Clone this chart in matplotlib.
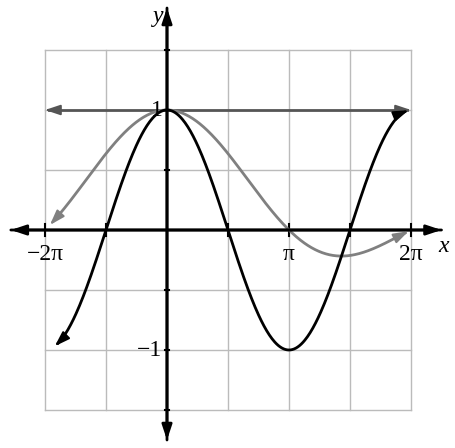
import numpy as np
import matplotlib
matplotlib.use("Agg")
import matplotlib.pyplot as plt

PI = np.pi
xtick_pos = [-PI, PI, 2 * PI]
xtick_labels = ["−2π", "π", "2π"]
ytick_pos = [1, -1]
ytick_labels = ["1", "−1"]
black_range = (-0.92 * PI, 1.98 * PI)
gray_range = (-0.96 * PI, 1.98 * PI)
hline_y = 1.0

fig = plt.figure(figsize=(4.56, 4.48), dpi=100)
ax = fig.add_axes([0, 0, 1, 1])
ax.set_xlim(-167 / 122 * PI, 289 / 122 * PI)
ax.set_ylim(-218 / 120, 230 / 120)
ax.axis("off")

for gx in np.arange(-PI, 2 * PI + 1e-9, PI / 2):
    ax.plot([gx, gx], [-1.5, 1.5], color="#bbbbbb", lw=1, zorder=0)
for gy in np.arange(-1.5, 1.5 + 1e-9, 0.5):
    ax.plot([-PI, 2 * PI], [gy, gy], color="#bbbbbb", lw=1, zorder=0)

ap = dict(arrowstyle="-|>,head_length=0.9,head_width=0.3", lw=2, color="black", shrinkA=0, shrinkB=0)
ax.annotate("", xy=(-1.28 * PI, 0), xytext=(2.25 * PI, 0), arrowprops=ap)
ax.annotate("", xy=(2.25 * PI, 0), xytext=(-1.28 * PI, 0), arrowprops=ap)
ax.annotate("", xy=(0, 1.85), xytext=(0, -1.75), arrowprops=ap)
ax.annotate("", xy=(0, -1.75), xytext=(0, 1.85), arrowprops=ap)

for t in np.arange(-PI, 2 * PI + 1e-9, PI / 2):
    if abs(t) > 1e-9:
        ax.plot([t, t], [-0.05, 0.05], color="black", lw=1.5)
for t in np.arange(-1.5, 1.51, 0.5):
    if abs(t) > 1e-9:
        ax.plot([-0.05, 0.05], [t, t], color="black", lw=1.5)

def curve(f, rng, color):
    x = np.linspace(rng[0], rng[1], 400)
    y = f(x)
    ax.plot(x[4:-4], y[4:-4], color=color, lw=2)
    a = dict(ap, color=color, lw=1.5)
    ax.annotate("", xy=(x[0], y[0]), xytext=(x[6], y[6]), arrowprops=a)
    ax.annotate("", xy=(x[-1], y[-1]), xytext=(x[-7], y[-7]), arrowprops=a)

curve(lambda x: np.ones_like(x) * hline_y, (-PI, 2 * PI), "#555555")
curve(lambda x: np.sin(x) / x, gray_range, "#808080")
curve(np.cos, black_range, "black")

fnt = dict(family=["Liberation Serif", "DejaVu Serif"], fontsize=17)
for p, l in zip(xtick_pos, xtick_labels):
    ax.text(p, -0.12, l, ha="center", va="top", **fnt)
for p, l in zip(ytick_pos, ytick_labels):
    ax.text(-0.12, p, l, ha="right", va="center", **fnt)
ax.text(2.27 * PI, -0.05, "x", ha="center", va="top", style="italic", **fnt)
ax.text(-0.1, 1.78, "y", ha="right", va="center", style="italic", **fnt)

fig.savefig("out.png", dpi=100, facecolor="white")
